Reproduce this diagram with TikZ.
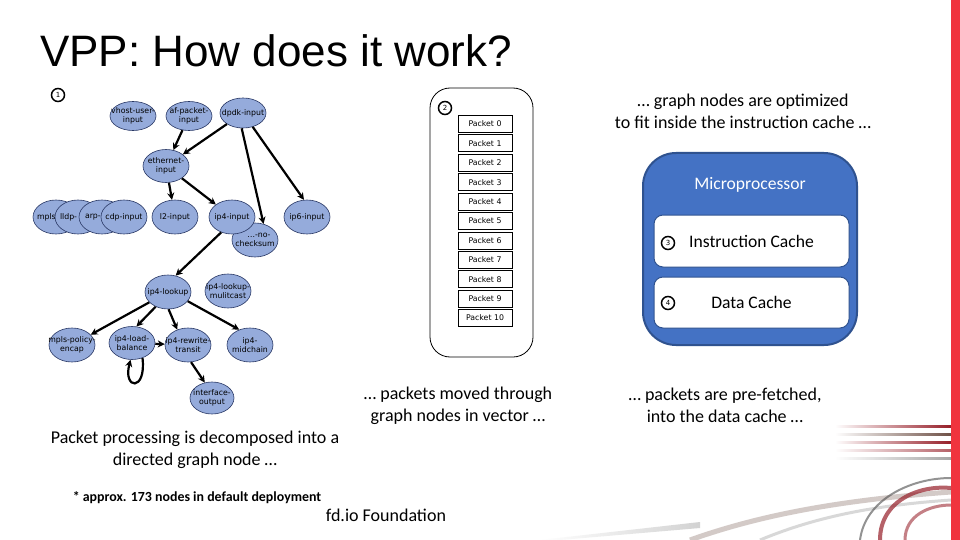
\documentclass[tikz,border=0pt]{standalone}
\usepackage{fontspec}
\setmainfont{Carlito}
\newfontfamily\titlefont{Liberation Sans}
\newfontfamily\gfont{DejaVu Sans}
\usetikzlibrary{shapes.geometric,arrows.meta}
\definecolor{nodeblue}{RGB}{149,171,219}
\definecolor{nodeedge}{RGB}{40,55,100}
\definecolor{cpublue}{RGB}{68,114,196}
\definecolor{cpuedge}{RGB}{47,82,143}
\definecolor{slidered}{RGB}{240,52,62}
\definecolor{swred}{RGB}{150,30,40}
\definecolor{swbrown}{RGB}{110,80,70}
\newcommand\zl[1]{\makebox[0pt]{#1}}
\newcommand\leftlbl[2]{\makebox[0pt][l]{\hspace*{#1}#2}}
\tikzset{
 gnode/.style={ellipse, draw=nodeedge, line width=0.6pt, fill=nodeblue, minimum width=46pt, minimum height=32pt, inner sep=0pt, align=center, font=\gfont\fontsize{7.8}{9}\selectfont},
 arr/.style={line width=2.2pt, -{Stealth[length=7pt,width=7pt]}},
 pkt/.style={draw, line width=0.8pt, fill=white, minimum width=54pt, minimum height=17pt, inner sep=0pt, font=\gfont\fontsize{7.8}{9}\selectfont},
 num/.style={circle, draw, line width=1.5pt, minimum size=13pt, inner sep=0pt, font=\gfont\fontsize{7}{8}\selectfont},
 body/.style={align=center, font=\fontsize{18}{22}\selectfont},
 cache/.style={draw=cpuedge, line width=1pt, fill=white, rounded corners=9pt, minimum width=195pt, minimum height=52pt, font=\fontsize{17.6}{20}\selectfont},
}
\begin{document}
\begin{tikzpicture}[x=1pt,y=-1pt]
\useasboundingbox (0,0) rectangle (960,540);
\fill[white] (0,0) rectangle (960,540);
% decorative background swoosh
\shade[left color=white, right color=gray!35] (540,540) -- (700,522) -- (700,528) -- (560,540) -- cycle;
\foreach \yy/\cc in {425/swred,433/swbrown,441/swred,449/swred!70,457/gray!70}{
  \shade[left color=white, right color=\cc] (835,\yy) rectangle (951,\yy+2.5);
}
\draw[line width=5pt, swbrown!60, opacity=0.5] (690,540) .. controls (760,515) and (840,500) .. (951,492);
\draw[line width=3pt, gray!50, opacity=0.6] (760,540) .. controls (820,515) and (880,505) .. (951,500);
\draw[line width=4pt, swred, opacity=0.7] (880,540) .. controls (880,500) and (920,485) .. (951,488);
\draw[line width=2pt, black!70, opacity=0.6] (860,540) .. controls (865,500) and (910,478) .. (951,478);
\draw[line width=3pt, swred!80, opacity=0.7] (905,540) .. controls (905,515) and (930,505) .. (951,505);
% red bar
\fill[slidered] (951,0) rectangle (960,540);
% title
\node[anchor=base west, inner sep=0pt] (title) at (40,67) {\titlefont\fontsize{44}{50}\selectfont VPP: How does it work?};
% graph
\node[num] (n1) at (58,95) {1};
\node[gnode, minimum height=29pt] (vhost) at (133,116) {\zl{vhost-user-}\\\zl{input}};
\node[gnode, minimum height=29pt] (afp) at (189,116) {\zl{af-packet-}\\\zl{input}};
\node[gnode, minimum height=30pt] (dpdk) at (243,113) {\zl{dpdk-input}};
\node[gnode, minimum height=33pt] (eth) at (166,166) {\zl{ethernet-}\\\zl{input}};
\node[gnode, minimum height=34pt] (mpls) at (56,217) {\leftlbl{-19pt}{mpls}};
\node[gnode, minimum height=34pt] (lldp) at (78,217) {\leftlbl{-18pt}{lldp-}};
\node[gnode, minimum height=34pt] (arpn) at (102,217) {\leftlbl{-17pt}{arp-}};
\node[gnode, minimum height=34pt] (cdp) at (124,217) {\zl{cdp-input}};
\node[gnode, minimum height=34pt] (l2) at (175,217) {\zl{l2-input}};
\node[gnode, minimum height=34pt] (nochk) at (255,240) {\zl{\quad…-no-}\\\zl{checksum}};
\node[gnode, minimum height=34pt] (ip4in) at (232,217) {\zl{ip4-input}};
\node[gnode, minimum height=34pt] (ip6) at (307,217) {\zl{ip6-input}};
\node[gnode, minimum height=34pt] (lookup) at (168,292) {\zl{ip4-lookup}};
\node[gnode, minimum height=34pt] (mcast) at (228,291) {\zl{ip4-lookup-}\\\zl{mulitcast}};
\node[gnode, minimum height=34pt] (mplsenc) at (72,345) {\zl{mpls-policy-}\\\zl{encap}};
\node[gnode, minimum height=33pt] (lb) at (132,343) {\zl{ip4-load-}\\\zl{balance}};
\node[gnode, minimum height=34pt] (rw) at (188,345) {\zl{ip4-rewrite-}\\\zl{transit}};
\node[gnode, minimum height=34pt] (mid) at (250,345) {\zl{ip4-}\\\zl{midchain}};
\node[gnode, minimum height=32pt, minimum width=44pt] (ifout) at (212,398) {\zl{interface-}\\\zl{output}};
\draw[arr] (afp) -- (eth);
\draw[arr] (dpdk) -- (eth);
\draw[arr] (dpdk.-95) -- (nochk.62);
\draw[arr] (dpdk.-55) -- (ip6.100);
\draw[arr] (eth) -- (l2);
\draw[arr] (eth) -- (ip4in);
\draw[arr] (ip4in.-125) -- (lookup.65);
\draw[arr] (lookup) -- (mplsenc);
\draw[arr] (lookup.-130) -- (lb.75);
\draw[arr] (lookup.-88) -- (rw.125);
\draw[arr] (lookup.-25) -- (mid.125);
\draw[arr] (lb) -- (rw);
\draw[arr] (rw.-80) -- (ifout.115);
\draw[arr] (lb.-55) .. controls +(4,34) and +(-8,30) .. (lb.-95);
% packet vector
\node[draw, line width=0.8pt, rounded corners=20pt, minimum width=103pt, minimum height=269pt] (vec) at (481.5,222.5) {};
\node[num] (n2) at (445,108) {2};
\foreach \i in {0,...,10}{
  \node[pkt] (p\i) at (485,{124+\i*19.4}) {Packet \i};
}
% microprocessor
\node[draw=cpuedge, line width=2pt, fill=cpublue, rounded corners=33pt, minimum width=214pt, minimum height=192pt] (cpu) at (750,249) {};
\node[text=white, font=\fontsize{17.6}{20}\selectfont] (cpulbl) at (750,185) {Microprocessor};
\node[cache] (icache) at (751.5,241) {Instruction Cache};
\node[cache, minimum height=51pt] (dcache) at (751.5,302.5) {Data Cache};
\node[num] (n3) at (668,243) {3};
\node[num] (n4) at (668,303) {4};
% texts
\node[body] (t1) at (743,111) {… graph nodes are optimized\\to fit inside the instruction cache …};
\node[body] (t2) at (458,406) {… packets moved through\\graph nodes in vector …};
\node[body] (t3) at (195,450) {Packet processing is decomposed into a\\directed graph node …};
\node[body] (t4) at (725,405) {… packets are pre-fetched,\\into the data cache …};
\node[font=\bfseries\fontsize{13.9}{15}\selectfont] (t5) at (197,498) {* approx. 173 nodes in default deployment};
\node[font=\fontsize{18}{20}\selectfont] (t6) at (386,515) {fd.io Foundation};
\end{tikzpicture}
\end{document}
